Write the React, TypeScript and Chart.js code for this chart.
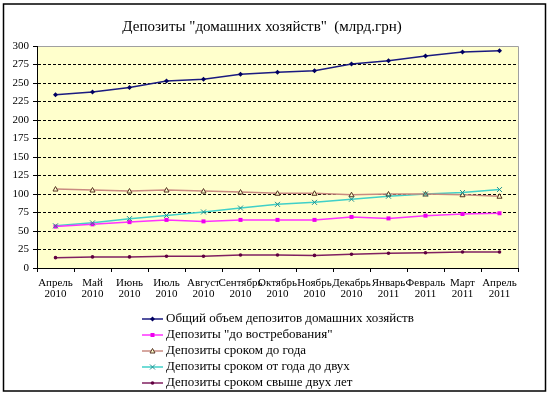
import React, { useEffect, useRef } from "react";
import { Chart, registerables } from "chart.js";

Chart.register(...registerables);

const titleText = 'Депозиты "домашних хозяйств"  (млрд.грн)';

const categories: string[][] = [
  ["Апрель", "2010"],
  ["Май", "2010"],
  ["Июнь", "2010"],
  ["Июль", "2010"],
  ["Август", "2010"],
  ["Сентябрь", "2010"],
  ["Октябрь", "2010"],
  ["Ноябрь", "2010"],
  ["Декабрь", "2010"],
  ["Январь", "2011"],
  ["Февраль", "2011"],
  ["Март", "2011"],
  ["Апрель", "2011"],
];

const totalDeposits = [234, 238, 244, 252.7, 255, 261.7, 264.4, 266.7, 275.7, 280, 286.5, 292, 293.6];
const demandDeposits = [56, 59, 62, 65, 63, 65, 65, 65, 69, 67, 70.7, 73, 74];
const upToYearDeposits = [106.7, 105.4, 104, 105.4, 104, 102.7, 101, 101, 99, 100, 100, 99, 97];
const oneToTwoDeposits = [57, 61, 66.7, 71, 75.7, 81, 86, 88.7, 93, 97, 100, 102, 106];
const overTwoDeposits = [14, 15, 15, 15.8, 15.8, 17.6, 17.6, 17, 18.5, 20, 20.7, 21.6, 21.6];

const seriesNames = [
  "Общий объем депозитов домашних хозяйств",
  'Депозиты "до востребования"',
  "Депозиты сроком до года",
  "Депозиты сроком от года до двух",
  "Депозиты сроком свыше двух лет",
];

const FONT = "'Liberation Serif', 'Times New Roman', serif";

function drawMarker(ctx: CanvasRenderingContext2D, style: string, x: number, y: number, color: string) {
  ctx.save();
  ctx.fillStyle = color;
  ctx.strokeStyle = color;
  ctx.lineWidth = 1;
  ctx.setLineDash([]);
  ctx.beginPath();
  if (style === "rectRot") {
    ctx.moveTo(x, y - 2.5);
    ctx.lineTo(x + 2.5, y);
    ctx.lineTo(x, y + 2.5);
    ctx.lineTo(x - 2.5, y);
    ctx.closePath();
    ctx.fill();
  } else if (style === "rect") {
    ctx.rect(x - 2, y - 2, 4, 4);
    ctx.fill();
  } else if (style === "triangle") {
    ctx.moveTo(x, y - 2.5);
    ctx.lineTo(x + 2.5, y + 2);
    ctx.lineTo(x - 2.5, y + 2);
    ctx.closePath();
    ctx.fillStyle = "#ffffcc";
    ctx.fill();
    ctx.stroke();
  } else if (style === "crossRot") {
    ctx.moveTo(x - 2.5, y - 2.5);
    ctx.lineTo(x + 2.5, y + 2.5);
    ctx.moveTo(x + 2.5, y - 2.5);
    ctx.lineTo(x - 2.5, y + 2.5);
    ctx.stroke();
  } else {
    ctx.arc(x, y, 1.8, 0, Math.PI * 2);
    ctx.fill();
  }
  ctx.restore();
}

const decorPlugin = {
  id: "decor",
  beforeDraw(chart: any) {
    const { ctx, chartArea } = chart;
    ctx.save();
    ctx.fillStyle = "#ffffff";
    ctx.fillRect(0, 0, chart.width, chart.height);
    ctx.strokeStyle = "#000000";
    ctx.lineWidth = 1.5;
    ctx.strokeRect(3.5, 4, 542, 387);
    ctx.fillStyle = "#ffffcc";
    ctx.fillRect(chartArea.left, chartArea.top, chartArea.right - chartArea.left, chartArea.bottom - chartArea.top);
    ctx.strokeStyle = "#a0a0a0";
    ctx.lineWidth = 1;
    ctx.beginPath();
    ctx.moveTo(chartArea.left, chartArea.top + 0.5);
    ctx.lineTo(chartArea.right + 0.5, chartArea.top + 0.5);
    ctx.lineTo(chartArea.right + 0.5, chartArea.bottom);
    ctx.stroke();
    ctx.fillStyle = "#000000";
    ctx.font = `15px ${FONT}`;
    ctx.textAlign = "center";
    ctx.textBaseline = "middle";
    ctx.fillText(titleText, 262, 27);
    ctx.restore();
  },
  afterDraw(chart: any) {
    const { ctx } = chart;
    ctx.save();
    const startY = 319;
    const step = 16;
    chart.data.datasets.forEach((ds: any, i: number) => {
      const y = startY + i * step;
      ctx.strokeStyle = ds.borderColor;
      ctx.lineWidth = 1.5;
      ctx.setLineDash([]);
      ctx.beginPath();
      ctx.moveTo(142, y);
      ctx.lineTo(163, y);
      ctx.stroke();
      drawMarker(ctx, ds.pointStyle, 152.5, y, ds.pointBorderColor);
      ctx.fillStyle = "#000000";
      ctx.font = `13px ${FONT}`;
      ctx.textAlign = "left";
      ctx.textBaseline = "middle";
      ctx.fillText(ds.label, 166, y);
    });
    ctx.restore();
  },
};

const markerPlugin = {
  id: "markers",
  afterDatasetsDraw(chart: any) {
    const { ctx } = chart;
    chart.data.datasets.forEach((ds: any, i: number) => {
      const meta = chart.getDatasetMeta(i);
      meta.data.forEach((pt: any) => {
        drawMarker(ctx, ds.pointStyle, pt.x, pt.y, ds.pointBorderColor);
      });
    });
  },
};

function makeDataset(label: string, data: number[], color: string, markerColor: string, style: string) {
  return {
    label,
    data,
    borderColor: color,
    backgroundColor: color,
    pointBorderColor: markerColor,
    pointStyle: style,
    borderWidth: 1.5,
    pointRadius: 0,
    pointHoverRadius: 0,
    tension: 0,
    fill: false,
  };
}

export default function App() {
  const canvasRef = useRef<HTMLCanvasElement | null>(null);

  useEffect(() => {
    if (!canvasRef.current) return;
    const chart = new Chart(canvasRef.current, {
      type: "line",
      data: {
        labels: categories,
        datasets: [
          makeDataset(seriesNames[0], totalDeposits, "#1a1a80", "#000060", "rectRot"),
          makeDataset(seriesNames[1], demandDeposits, "#ff33ff", "#ee00ee", "rect"),
          makeDataset(seriesNames[2], upToYearDeposits, "#c98a80", "#553322", "triangle"),
          makeDataset(seriesNames[3], oneToTwoDeposits, "#40d0c8", "#209090", "crossRot"),
          makeDataset(seriesNames[4], overTwoDeposits, "#802060", "#600040", "circle"),
        ] as any,
      },
      options: {
        animation: false,
        responsive: false,
        maintainAspectRatio: false,
        events: [],
        layout: { padding: { top: 46, left: 0, right: 32, bottom: 0 } },
        plugins: {
          legend: { display: false },
          title: { display: false },
          tooltip: { enabled: false },
        },
        scales: {
          x: {
            offset: true,
            grid: {
              offset: true,
              drawOnChartArea: false,
              drawTicks: true,
              tickLength: 4,
              color: "#000000",
            },
            border: { display: true, color: "#000000", width: 1 },
            ticks: {
              autoSkip: false,
              maxRotation: 0,
              minRotation: 0,
              color: "#000000",
              font: { family: FONT, size: 11, lineHeight: 1.0 },
              padding: 6,
            },
            afterFit(axis: any) {
              axis.height = 128;
            },
          },
          y: {
            min: 0,
            max: 300,
            ticks: {
              stepSize: 25,
              color: "#000000",
              font: { family: FONT, size: 11 },
              padding: 4,
            },
            grid: {
              color: (c: any) => (c.tick && (c.tick.value === 0 || c.tick.value === 300) ? "rgba(0,0,0,0)" : "#000000"),
              tickColor: "#000000",
              drawTicks: true,
              tickLength: 4,
              lineWidth: 1,
            },
            border: { display: true, color: "#000000", width: 1, dash: [3, 2] } as any,
            afterFit(axis: any) {
              axis.width = 37;
            },
          },
        },
      },
      plugins: [decorPlugin, markerPlugin],
    } as any);
    return () => chart.destroy();
  }, []);

  return (
    <div style={{ position: "fixed", left: 0, top: 0, width: 550, height: 396, background: "#fff" }}>
      <canvas ref={canvasRef} width={550} height={396} style={{ display: "block", width: 550, height: 396 }} />
    </div>
  );
}
